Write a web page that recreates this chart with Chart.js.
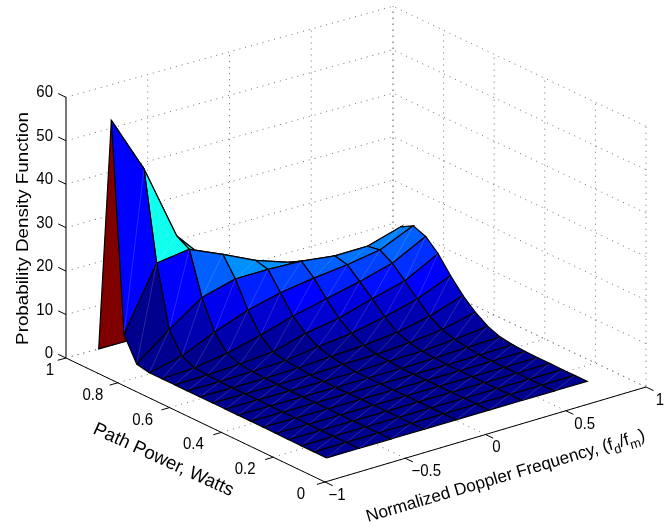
<!DOCTYPE html>
<html>
<head>
<meta charset="utf-8">
<style>
  html, body { margin: 0; padding: 0; background: #fff; }
</style>
<script src="https://cdn.jsdelivr.net/npm/chart.js@4/dist/chart.umd.min.js"></script>
</head>
<body>
<canvas id="myChart" width="665" height="527"></canvas>
<script>
// grid of the surface
const dopplerFreq = [-0.8, -0.6, -0.4, -0.195, 0.005, 0.21, 0.415, 0.615, 0.82];
const pathPower = [0.118, 0.167, 0.216, 0.265, 0.314, 0.363, 0.412, 0.461, 0.51, 0.559,
                   0.608, 0.657, 0.706, 0.755, 0.804, 0.853, 0.902, 0.951, 1];
// one row per pathPower value, one column per dopplerFreq value
const pdfValues = [
    [0, 0, 0, 0, 0, 0, 0, 0, 0],
    [0, 0, 0, 0, 0, 0, 0, 0, 0],
    [0, 0, 0, 0, 0, 0, 0, 0, 0],
    [0, 0, 0, 0, 0, 0, 0, 0, 0.05],
    [0.05, 0, 0, 0, 0, 0, 0, 0, 0.05],
    [0.1, 0.05, 0, 0, 0, 0, 0, 0.05, 0.1],
    [0.1, 0, 0, 0, 0, 0, 0, 0.1, 0.3],
    [0.1, 0.05, 0, 0, 0, 0, 0.2, 0.5, 0.7],
    [0.1, 0.05, 0, 0, 0, 0.3, 0.4, 1, 1.8],
    [0.1, 0.05, 0.05, 0.1, 0.4, 0.5, 1, 1.9, 3.7],
    [0.1, 0.05, 0.1, 0.3, 0.8, 1.2, 2, 3.6, 6.2],
    [0.1, 0.1, 0.3, 0.6, 1.7, 2.6, 4.2, 6.2, 9.4],
    [0.1, 0.2, 0.6, 1.3, 3.4, 4.7, 7, 9, 13.1],
    [0.1, 0.5, 1.7, 3.7, 6, 7.8, 9.6, 11.7, 15.7],
    [0.1, 1.8, 5.2, 8.1, 10, 11.2, 12.1, 13.4, 16.8],
    [0.7, 6.5, 11.8, 13.9, 14, 13.75, 12.8, 12.9, 15.2],
    [6.1, 20.4, 21.5, 18.2, 14.7, 12.1, 10.7, 9.5, 11],
    [54, 40.7, 23.2, 15, 11, 9, 8, 7, 8],
    [0, 0, 0, 0, 0, 0, 0, 0, 0]
];
const xTicks = [-1, -0.5, 0, 0.5, 1];
const xTickLabels = ["\u22121", "\u22120.5", "0", "0.5", "1"];
const yTicks = [0, 0.2, 0.4, 0.6, 0.8, 1];
const yTickLabels = ["0", "0.2", "0.4", "0.6", "0.8", "1"];
const zTicks = [0, 10, 20, 30, 40, 50, 60];

const zMax = 54;

// where the axes box sits on the page
const cornerFront = [325, 482], cornerRight = [646, 387], cornerLeft = [66, 358], cornerBack = [393, 267];
const pxPerZ = 4.345;

function project(x, y, z) {
    const u = (x + 1) / 2;
    const bx = cornerFront[0] + (cornerRight[0] - cornerFront[0]) * u;
    const by = cornerFront[1] + (cornerRight[1] - cornerFront[1]) * u;
    const tx = cornerLeft[0] + (cornerBack[0] - cornerLeft[0]) * u;
    const ty = cornerLeft[1] + (cornerBack[1] - cornerLeft[1]) * u;
    return { x: bx + (tx - bx) * y, y: by + (ty - by) * y - z * pxPerZ };
}

// matlab jet, 64 levels
function jet(z) {
    const idx = Math.min(63, Math.floor(z / zMax * 64));
    const t = (idx + 1) / 64;
    const c = v => Math.round(255 * Math.max(0, Math.min(1, v)));
    const r = c(Math.min(4 * t - 1.5, -4 * t + 4.5));
    const g = c(Math.min(4 * t - 0.5, -4 * t + 3.5));
    const b = c(Math.min(4 * t + 0.5, -4 * t + 2.5));
    return "rgb(" + r + "," + g + "," + b + ")";
}

const paintOrder = [];

function addLine(points, color, width, dash) {
    paintOrder.push({
        data: points, showLine: true, fill: false, pointRadius: 0,
        borderColor: color, borderWidth: width, borderDash: dash || [], tension: 0, clip: false
    });
}

const gridColor = "#6e6e6e", gridDash = [1, 5];

// back walls and floor grid
xTicks.forEach(x => {
    addLine([project(x, 0, 0), project(x, 1, 0), project(x, 1, 60)], gridColor, 1, gridDash);
});
yTicks.forEach(y => {
    addLine([project(-1, y, 0), project(1, y, 0), project(1, y, 60)], gridColor, 1, gridDash);
});
zTicks.forEach(z => {
    addLine([project(-1, 1, z), project(1, 1, z), project(1, 0, z)], gridColor, 1, gridDash);
});

// axis lines and ticks
addLine([project(-1, 1, 0), project(-1, 0, 0), project(1, 0, 0)], "#000", 1);
addLine([project(-1, 1, 0), project(-1, 1, 60)], "#777", 2);
xTicks.forEach(x => {
    addLine([project(x, 0, 0), project(x, -0.03, 0)], "#000", 1);
});
yTicks.forEach(y => {
    addLine([project(-1, y, 0), project(-1.05, y, 0)], "#000", 1);
});
zTicks.forEach(z => {
    addLine([project(-1, 1, z), project(-1, 1.03, z)], "#000", 1);
});

// surface faces, back to front
for (let j = pathPower.length - 2; j >= 0; j--) {
    for (let i = dopplerFreq.length - 2; i >= 0; i--) {
        const a = project(dopplerFreq[i], pathPower[j], pdfValues[j][i]);
        const b = project(dopplerFreq[i + 1], pathPower[j], pdfValues[j][i + 1]);
        const c = project(dopplerFreq[i + 1], pathPower[j + 1], pdfValues[j + 1][i + 1]);
        const d = project(dopplerFreq[i], pathPower[j + 1], pdfValues[j + 1][i]);
        paintOrder.push({
            data: [a, b, c, d, a], showLine: true, fill: "shape",
            backgroundColor: jet(pdfValues[j][i]), borderColor: "#000", borderWidth: 1.2,
            pointRadius: 0, tension: 0, clip: false
        });
        addLine([a, c], "rgba(255,255,255,0.22)", 0.7);
    }
}

function putText(ctx, text, x, y, size, angle, align, squeeze) {
    ctx.save();
    ctx.translate(x, y);
    ctx.scale(squeeze, 1);
    ctx.rotate(angle * Math.PI / 180);
    ctx.font = size + "px 'Liberation Sans'";
    ctx.textAlign = align;
    ctx.fillText(text, 0, 0);
    ctx.restore();
}

const labelsPlugin = {
    id: "axisText",
    afterDraw(chart) {
        const ctx = chart.ctx;
        ctx.save();
        ctx.fillStyle = "#000";
        ctx.textBaseline = "middle";

        zTicks.forEach(z => {
            const p = project(-1, 1, z);
            putText(ctx, String(z), p.x - 13, p.y - 4.3, 16.3, 0, "right", 0.92);
        });
        const xLabelDx = [12, 21, 11, 19, 14];
        xTicks.forEach((x, k) => {
            const p = project(x, 0, 0);
            putText(ctx, xTickLabels[k], p.x + xLabelDx[k], p.y + 13.5, 16.3, 0, "center", 0.92);
        });
        const yLabelDx = [-24, -28, -28, -27, -25, -16];
        yTicks.forEach((y, k) => {
            const p = project(-1, y, 0);
            putText(ctx, yTickLabels[k], p.x + yLabelDx[k], p.y + 12.5, 16.3, 0, "center", 0.92);
        });

        ctx.textBaseline = "alphabetic";
        putText(ctx, "Probability Density Function", 28, 228.5, 18.8, -90, "center", 0.92);
        putText(ctx, "Path Power, Watts", 92, 433, 18.6, 24.6, "left", 1);

        // x label has subscripts so it goes in pieces
        ctx.save();
        ctx.translate(368, 522);
        ctx.rotate(-16.5 * Math.PI / 180);
        ctx.textAlign = "left";
        let pen = 0;
        [["Normalized Doppler Frequency, (f", 0], ["d", 5], ["/f", 0], ["m", 5], [")", 0]].forEach(part => {
            ctx.font = (part[1] ? "13px" : "17.2px") + " 'Liberation Sans'";
            ctx.fillText(part[0], pen, part[1]);
            pen += ctx.measureText(part[0]).width;
        });
        ctx.restore();
        ctx.restore();
    }
};

new Chart(document.getElementById("myChart").getContext("2d"), {
    type: "scatter",
    data: { datasets: paintOrder.slice().reverse() },
    options: {
        responsive: false,
        animation: false,
        layout: { padding: 0 },
        plugins: { legend: { display: false }, tooltip: { enabled: false }, title: { display: false } },
        scales: {
            x: { type: "linear", display: false, min: 0, max: 665 },
            y: { type: "linear", display: false, min: 0, max: 527, reverse: true }
        }
    },
    plugins: [labelsPlugin]
});
</script>
</body>
</html>
